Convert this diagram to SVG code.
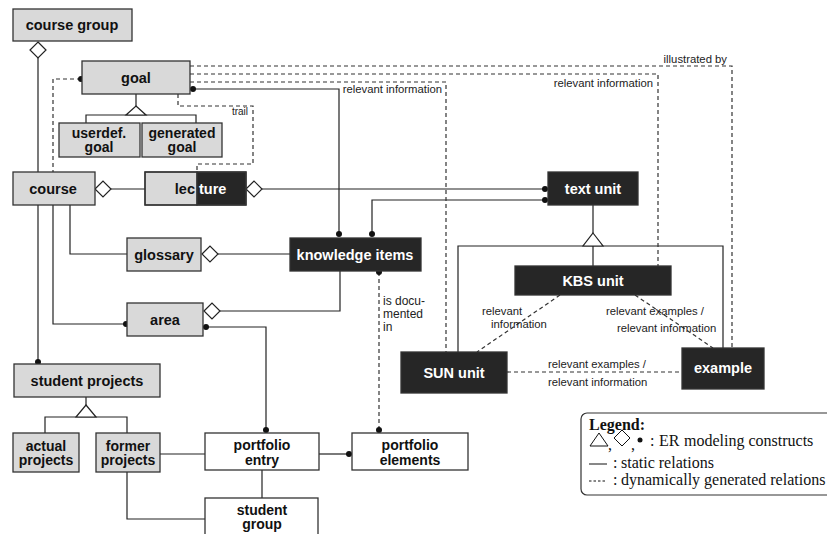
<svg xmlns="http://www.w3.org/2000/svg" width="827" height="534" viewBox="0 0 827 534">
<style>
.g{fill:#d9d9d9;stroke:#333;stroke-width:1.3}
.d{fill:#262626;stroke:#333;stroke-width:1.3}
.w{fill:#fff;stroke:#333;stroke-width:1.3}
.t{font-family:"Liberation Sans",Arial,sans-serif;font-weight:bold;font-size:14.5px;fill:#111;text-anchor:middle}
.t2{font-family:"Liberation Sans",Arial,sans-serif;font-weight:bold;font-size:14px;fill:#111;text-anchor:middle}
.tw{font-family:"Liberation Sans",Arial,sans-serif;font-weight:bold;font-size:14.5px;fill:#fff;text-anchor:middle}
.s{fill:none;stroke:#222;stroke-width:1.2}
.ds{fill:none;stroke:#333;stroke-width:1.2;stroke-dasharray:4 3}
.dia{fill:#fff;stroke:#222;stroke-width:1.2}
.dot{fill:#111}
.l{font-family:"Liberation Sans",Arial,sans-serif;font-size:11.3px;fill:#222}
.lg{font-family:"Liberation Serif","Times New Roman",serif;font-size:16px;fill:#111}
</style>

<g id="connectors">
  <polygon class="dia" points="38,42 46,50 38,58 30,50"/>
  <path class="s" d="M38,58V172 M38,205V362"/>
  <circle class="dot" cx="38" cy="362" r="3"/>
  <path class="s" d="M136,94V106 M86,123V115H196V123"/>
  <polygon class="dia" points="136,106 146,115 126,115"/>
  <path class="s" d="M193,89H339V234"/>
  <circle class="dot" cx="193" cy="89" r="3"/>
  <circle class="dot" cx="339" cy="234" r="3"/>
  <polygon class="dia" points="95,189 103,181 111,189 103,197"/>
  <path class="s" d="M111,189H145"/>
  <polygon class="dia" points="246,189 254,181 262,189 254,197"/>
  <path class="s" d="M262,189H545"/>
  <circle class="dot" cx="545" cy="189" r="3"/>
  <path class="s" d="M545,200H372V234"/>
  <circle class="dot" cx="545" cy="200" r="3"/>
  <circle class="dot" cx="372" cy="234" r="3"/>
  <path class="s" d="M70,205V254H127"/>
  <polygon class="dia" points="202,254 210,246 218,254 210,262"/>
  <path class="s" d="M218,254H290"/>
  <path class="s" d="M53,205V324H126"/>
  <circle class="dot" cx="126" cy="324" r="3"/>
  <polygon class="dia" points="204,311 212,303 220,311 212,319"/>
  <path class="s" d="M220,311H340V271"/>
  <path class="s" d="M206,327H266V430"/>
  <circle class="dot" cx="206" cy="327" r="3"/>
  <circle class="dot" cx="266" cy="430" r="3"/>
  <path class="s" d="M86,397V405 M45,433V417H127V433"/>
  <polygon class="dia" points="86,405 96,417 76,417"/>
  <path class="s" d="M160,454H205"/>
  <path class="s" d="M127,472V519H205"/>
  <path class="s" d="M262,470V498"/>
  <path class="s" d="M319,454H349"/>
  <circle class="dot" cx="349" cy="454" r="3"/>
  <path class="s" d="M593,205V233 M593,246V266 M458,352V246H723V348"/>
  <polygon class="dia" points="593,233 603,246 583,246"/>

  <path class="ds" d="M81,79H53V172"/>
  <circle class="dot" cx="81" cy="79" r="3"/>
  <path class="ds" d="M190,66H732V348"/>
  <path class="ds" d="M190,74H658V266"/>
  <path class="ds" d="M190,82H446V352"/>
  <path class="ds" d="M178,94V106H253V164H197V172"/>
  <path class="ds" d="M379,272V430"/>
  <circle class="dot" cx="379" cy="272" r="3"/>
  <circle class="dot" cx="379" cy="430" r="3"/>
  <path class="ds" d="M560,295L477,352"/>
  <path class="ds" d="M635,295L713,348"/>
  <path class="ds" d="M507,372H682"/>

  <text class="l" x="727" y="63" text-anchor="end">illustrated by</text>
  <text class="l" x="653" y="87" text-anchor="end">relevant information</text>
  <text class="l" x="442" y="93" text-anchor="end">relevant information</text>
  <text class="l" x="248" y="115" text-anchor="end" style="font-size:10px">trail</text>
  <text class="l" x="383" y="305" style="font-size:12px">is docu-</text>
  <text class="l" x="383" y="318" style="font-size:12px">mented</text>
  <text class="l" x="383" y="331" style="font-size:12px">in</text>
  <text class="l" x="482" y="315">relevant</text>
  <text class="l" x="491" y="328">information</text>
  <text class="l" x="606" y="315">relevant examples /</text>
  <text class="l" x="617" y="332">relevant information</text>
  <text class="l" x="548" y="368">relevant examples /</text>
  <text class="l" x="548" y="386">relevant information</text>
</g>

<g id="course-group"><rect class="g" x="13" y="9" width="119" height="32"/><text class="t" x="72" y="30">course group</text></g>
<g id="goal"><rect class="g" x="82" y="61" width="108" height="33"/><text class="t" x="136" y="83">goal</text></g>
<g id="userdef-goal"><rect class="g" x="59" y="123" width="81" height="34"/><text class="t2" x="99" y="138">userdef.</text><text class="t2" x="99" y="152">goal</text></g>
<g id="generated-goal"><rect class="g" x="142" y="123" width="80" height="34"/><text class="t2" x="182" y="138">generated</text><text class="t2" x="182" y="152">goal</text></g>
<g id="course"><rect class="g" x="13" y="172" width="82" height="33"/><text class="t" x="53" y="194">course</text></g>
<g id="lecture"><rect class="g" x="145" y="172" width="52" height="33"/><rect class="d" x="197" y="172" width="49" height="33"/><rect x="145" y="172" width="101" height="33" fill="none" stroke="#333" stroke-width="1.3"/><text class="t" x="195" y="194" style="text-anchor:end">lec</text><text class="tw" x="199" y="194" style="text-anchor:start">ture</text></g>
<g id="text-unit"><rect class="d" x="548" y="172" width="90" height="33"/><text class="tw" x="593" y="194">text unit</text></g>
<g id="glossary"><rect class="g" x="127" y="238" width="74" height="33"/><text class="t" x="164" y="260">glossary</text></g>
<g id="knowledge-items"><rect class="d" x="290" y="238" width="131" height="33"/><text class="tw" x="355" y="260">knowledge items</text></g>
<g id="area"><rect class="g" x="127" y="303" width="76" height="33"/><text class="t" x="165" y="325">area</text></g>
<g id="kbs-unit"><rect class="d" x="515" y="266" width="156" height="29"/><text class="tw" x="593" y="286">KBS unit</text></g>
<g id="sun-unit"><rect class="d" x="401" y="352" width="106" height="41"/><text class="tw" x="454" y="378">SUN unit</text></g>
<g id="example"><rect class="d" x="682" y="348" width="82" height="41"/><text class="tw" x="723" y="373">example</text></g>
<g id="student-projects"><rect class="g" x="14" y="364" width="146" height="33"/><text class="t" x="87" y="386">student projects</text></g>
<g id="actual-projects"><rect class="g" x="13" y="433" width="66" height="39"/><text class="t2" x="46" y="451">actual</text><text class="t2" x="46" y="465">projects</text></g>
<g id="former-projects"><rect class="g" x="96" y="433" width="64" height="39"/><text class="t2" x="128" y="451">former</text><text class="t2" x="128" y="465">projects</text></g>
<g id="portfolio-entry"><rect class="w" x="205" y="433" width="114" height="37"/><text class="t2" x="262" y="450">portfolio</text><text class="t2" x="262" y="465">entry</text></g>
<g id="portfolio-elements"><rect class="w" x="352" y="433" width="116" height="37"/><text class="t2" x="410" y="450">portfolio</text><text class="t2" x="410" y="465">elements</text></g>
<g id="student-group"><rect class="w" x="205" y="498" width="113" height="45"/><text class="t2" x="262" y="515">student</text><text class="t2" x="262" y="529">group</text></g>

<g id="legend">
  <rect x="581" y="413" width="260" height="82" rx="6" fill="#fff" stroke="#333" stroke-width="1.2"/>
  <text class="lg" x="589" y="430" font-weight="bold">Legend:</text>
  <polygon points="590,446 608,446 599,433" fill="none" stroke="#111" stroke-width="1"/>
  <text class="lg" x="608" y="450">,</text>
  <polygon points="614,438 622,430 630,438 622,446" fill="none" stroke="#111" stroke-width="1"/>
  <text class="lg" x="631" y="450">,</text>
  <circle cx="640" cy="440" r="2.5" fill="#111"/>
  <text class="lg" x="650" y="446">:</text>
  <text class="lg" x="659" y="446">ER</text>
  <text class="lg" x="684" y="446">modeling constructs</text>
  <path d="M589,464H607" stroke="#111" stroke-width="1"/>
  <text class="lg" x="613" y="468">:</text>
  <text class="lg" x="621" y="468">static relations</text>
  <path d="M589,481H607" stroke="#111" stroke-width="1" stroke-dasharray="2.5 2"/>
  <text class="lg" x="613" y="485">:</text>
  <text class="lg" x="621" y="485">dynamically generated relations</text>
</g>
</svg>
